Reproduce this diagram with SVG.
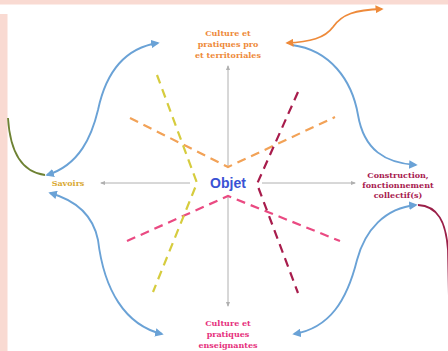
<svg xmlns="http://www.w3.org/2000/svg" width="448" height="351" viewBox="0 0 448 351">
<style>
  .lbl { font-family: "DejaVu Serif", "Liberation Serif", serif; font-weight: bold; font-size: 8px; text-anchor: middle; }
  .axis { stroke: #b0b0b0; stroke-width: 1; fill: none; }
  .arc { stroke: #6aa2d6; stroke-width: 1.9; fill: none; }
  .dash { stroke-width: 2.2; fill: none; stroke-dasharray: 9 6; stroke-linecap: butt; }
</style>
<defs>
  <marker id="ab" viewBox="0 0 10 10" refX="8" refY="5" markerWidth="4.5" markerHeight="4.5" orient="auto-start-reverse">
    <path d="M0,0 L10,5 L0,10 z" fill="#6aa2d6"/>
  </marker>
  <marker id="ao" viewBox="0 0 10 10" refX="8" refY="5" markerWidth="4.5" markerHeight="4.5" orient="auto-start-reverse">
    <path d="M0,0 L10,5 L0,10 z" fill="#ee8a3a"/>
  </marker>
  <marker id="ag" viewBox="0 0 10 10" refX="8" refY="5" markerWidth="5" markerHeight="5" orient="auto-start-reverse">
    <path d="M0,1 L10,5 L0,9 z" fill="#b0b0b0"/>
  </marker>
</defs>
<rect x="0" y="0" width="448" height="351" fill="#ffffff"/>
<rect x="0" y="0" width="448" height="4.5" fill="#f9dad2"/>
<rect x="0" y="14" width="7.5" height="337" fill="#f9dad2"/>

<g id="connectors">
  <path class="axis" d="M190,183 L101,183" marker-end="url(#ag)"/>
  <path class="axis" d="M262,183 L355,183" marker-end="url(#ag)"/>
  <path class="axis" d="M228,168 L228,66" marker-end="url(#ag)"/>
  <path class="axis" d="M228,197 L228,306" marker-end="url(#ag)"/>

  <path class="dash" stroke="#f2a257" d="M130,118 L228,167 L335,117"/>
  <path class="dash" stroke="#ea4a82" d="M127,241 L228,196 L340,241"/>
  <path class="dash" stroke="#d6cc3e" d="M157,75 L197,183 L153,292"/>
  <path class="dash" stroke="#a81c4c" d="M298,92 L257,184 L298,293"/>

  <path class="arc" d="M47,175 C80,165 92,135 98,110 C106,72 125,48 158,43" marker-start="url(#ab)" marker-end="url(#ab)"/>
  <path class="arc" d="M50,193 C75,200 93,215 98,240 C104,290 125,325 162,334" marker-start="url(#ab)" marker-end="url(#ab)"/>
  <path class="arc" d="M292,45 C330,50 352,80 358,115 C364,150 385,163 416,165" marker-end="url(#ab)"/>
  <path class="arc" d="M416,205 C385,208 365,230 357,260 C347,300 330,328 294,334" marker-start="url(#ab)" marker-end="url(#ab)"/>

  <path d="M8,118 C10,150 20,172 45,175" stroke="#6e8233" stroke-width="1.8" fill="none"/>
  <path d="M418,205 C438,206 446,222 448,250 L449,300" stroke="#9a1f48" stroke-width="1.8" fill="none"/>
  <path d="M287,43 C310,42 325,38 333,27 C342,14 355,10 382,9" stroke="#ee8a3a" stroke-width="1.8" fill="none" marker-start="url(#ao)" marker-end="url(#ao)"/>
</g>

<g id="node-objet">
  <text x="228" y="188" font-family="'Liberation Sans', sans-serif" font-weight="bold" font-size="14" text-anchor="middle" fill="#3a52d4">Objet</text>
</g>
<g id="node-top" fill="#ee8a3a">
  <text class="lbl" x="228" y="36">Culture et</text>
  <text class="lbl" x="228" y="47">pratiques pro</text>
  <text class="lbl" x="228" y="58">et territoriales</text>
</g>
<g id="node-left">
  <text class="lbl" x="68" y="186" fill="#d9a934">Savoirs</text>
</g>
<g id="node-right" fill="#a8204f">
  <text class="lbl" x="398" y="178">Construction,</text>
  <text class="lbl" x="398" y="188">fonctionnement</text>
  <text class="lbl" x="398" y="198">collectif(s)</text>
</g>
<g id="node-bottom" fill="#e6317d">
  <text class="lbl" x="228" y="326">Culture et</text>
  <text class="lbl" x="228" y="337">pratiques</text>
  <text class="lbl" x="228" y="348">enseignantes</text>
</g>
</svg>
